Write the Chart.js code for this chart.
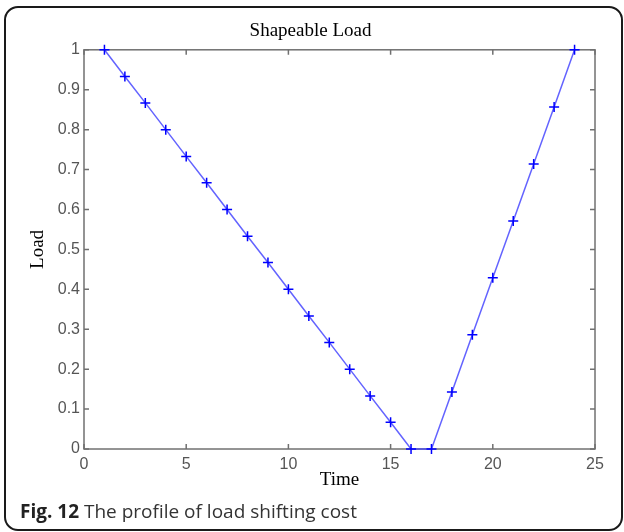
<!DOCTYPE html>
<html>
<head>
<meta charset="utf-8">
<script src="https://cdn.jsdelivr.net/npm/chart.js@4/dist/chart.umd.min.js"></script>
<style>
  html, body { margin: 0; padding: 0; background: #fff; }
  #wrap { position: relative; width: 624px; height: 532px; overflow: hidden; }
  #frame {
    position: absolute; left: 4px; top: 6px; width: 619px; height: 525px;
    box-sizing: border-box; border: 2px solid #1a1a1a; border-radius: 14px;
  }
  #myChart { position: absolute; left: 0; top: 0; }
  #caption {
    position: absolute; left: 20px; top: 502px;
    font-family: "Open Sans", sans-serif; font-size: 19px; line-height: 19px; color: #333;
  }
  #caption b { color: #222; }
</style>
</head>
<body>
<div id="wrap">
  <div id="frame"></div>
  <canvas id="myChart" width="624" height="532"></canvas>
  <div id="caption"><b>Fig. 12</b> The profile of load shifting cost</div>
</div>
<script>
// values
const times = [1, 2, 3, 4, 5, 6, 7, 8, 9, 10, 11, 12, 13, 14, 15, 16, 17, 18, 19, 20, 21, 22, 23, 24]
const load = [1, 0.933, 0.867, 0.8, 0.733, 0.667, 0.6, 0.533, 0.467, 0.4, 0.333, 0.267, 0.2, 0.133, 0.067, 0,
	0, 0.143, 0.286, 0.429, 0.571, 0.714, 0.857, 1]
const xTicks = [0, 5, 10, 15, 20, 25]
const yTicks = [0, 0.1, 0.2, 0.3, 0.4, 0.5, 0.6, 0.7, 0.8, 0.9, 1]
const yTickLabels = ['0', '0.1', '0.2', '0.3', '0.4', '0.5', '0.6', '0.7', '0.8', '0.9', '1']

let points = []
times.map((t, i) => {
	points.push({x: t, y: load[i]})
})

// matlab style box with inward ticks on all four sides
const boxTicks = {
	id: 'boxTicks',
	beforeDatasetsDraw(chart) {
		const ctx = chart.ctx
		const a = chart.chartArea
		const xs = chart.scales.x
		const ys = chart.scales.y
		const len = 5
		ctx.save()
		ctx.strokeStyle = '#707070'
		ctx.lineWidth = 1.5
		ctx.strokeRect(a.left, a.top, a.right - a.left, a.bottom - a.top)
		ctx.beginPath()
		xTicks.map(v => {
			const px = xs.getPixelForValue(v)
			ctx.moveTo(px, a.bottom); ctx.lineTo(px, a.bottom - len)
			ctx.moveTo(px, a.top); ctx.lineTo(px, a.top + len)
		})
		yTicks.map(v => {
			const py = ys.getPixelForValue(v)
			ctx.moveTo(a.left, py); ctx.lineTo(a.left + len, py)
			ctx.moveTo(a.right, py); ctx.lineTo(a.right - len, py)
		})
		ctx.stroke()
		ctx.restore()
	}
}

const tickFont = {family: 'Liberation Sans', size: 16}
const serif = {family: 'Liberation Serif', size: 19}

let myChart1 = document.getElementById('myChart').getContext('2d')

let chart1 = new Chart(myChart1, {
	type: 'scatter',
	data: {
		datasets: [{
			data: points,
			showLine: true,
			borderColor: 'rgba(60,60,255,0.8)',
			borderWidth: 1.5,
			pointStyle: 'cross',
			pointRadius: 5,
			pointBorderColor: '#0000ff',
			pointBorderWidth: 1.5,
			pointHoverRadius: 5,
			clip: false
		}]
	},
	options: {
		responsive: false,
		animation: false,
		devicePixelRatio: 1,
		layout: {padding: {left: 26, right: 29, top: 0, bottom: 41}},
		plugins: {
			legend: {display: false},
			tooltip: {enabled: false},
			title: {
				display: true,
				text: 'Shapeable Load',
				color: '#000',
				font: {family: 'Liberation Serif', size: 19, weight: 'normal'},
				padding: {top: 20, bottom: 7}
			}
		},
		scales: {
			x: {
				type: 'linear',
				min: 0,
				max: 25,
				afterFit: s => { s.height = 42 },
				afterBuildTicks: s => { s.ticks = xTicks.map(v => ({value: v})) },
				grid: {display: false, drawTicks: false},
				border: {display: false},
				ticks: {color: '#555', font: tickFont, padding: 6, maxRotation: 0},
				title: {display: true, text: 'Time', color: '#000', font: serif, padding: 0}
			},
			y: {
				min: 0,
				max: 1,
				afterFit: s => { s.width = 58 },
				afterBuildTicks: s => { s.ticks = yTicks.map(v => ({value: v})) },
				grid: {display: false, drawTicks: false},
				border: {display: false},
				ticks: {
					color: '#555', font: tickFont, padding: 4,
					callback: (v, i) => yTickLabels[i]
				},
				title: {display: true, text: 'Load', color: '#000', font: serif, padding: 1}
			}
		}
	},
	plugins: [boxTicks]
})
</script>
</body>
</html>
